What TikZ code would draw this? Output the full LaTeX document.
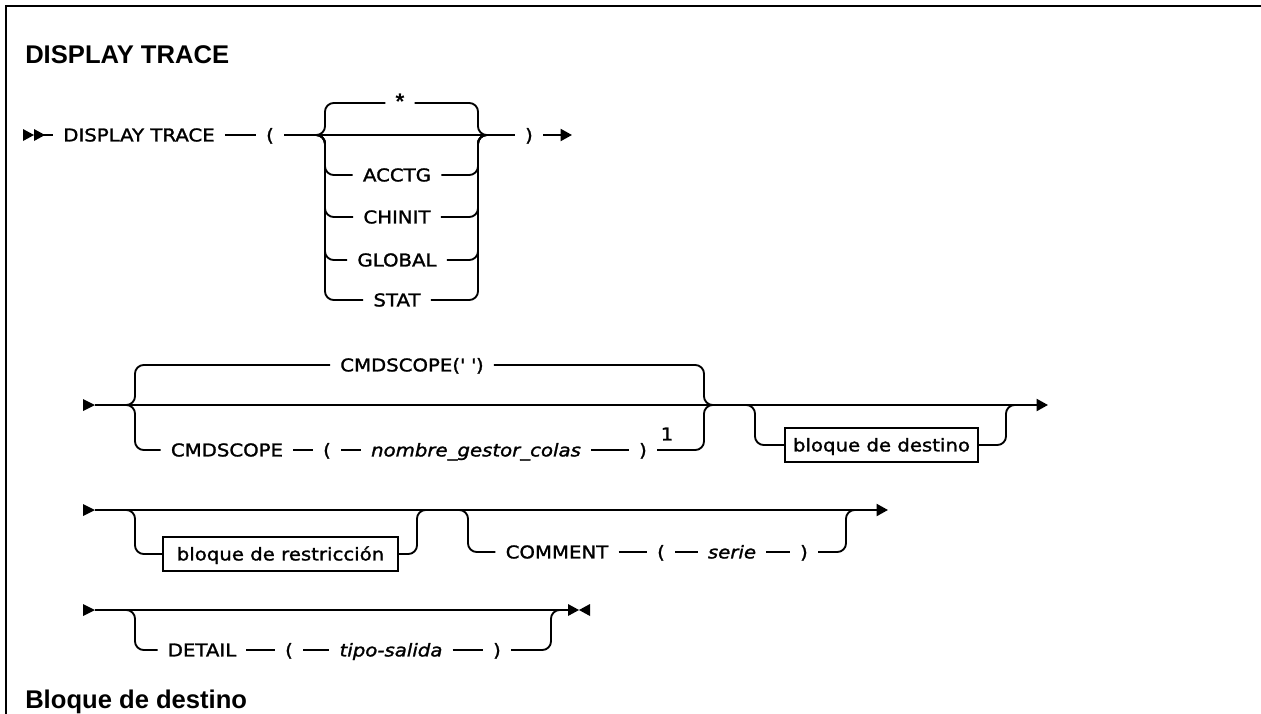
\documentclass[tikz,border=0pt]{standalone}
\usepackage{fontspec}
\setmainfont{DejaVu Sans}[FakeStretch=1.12, FakeBold=1.5]
\newfontfamily\headfont{Liberation Sans}
\usetikzlibrary{arrows.meta}

\begin{document}
\begin{tikzpicture}[x=0.75pt, y=-0.75pt,
  syn/.style={line width=1.4pt, line join=round},
  brn/.style={syn, rounded corners=6.5pt},
  tok/.style={font=\fontsize{13.2}{15}\selectfont, inner xsep=7.5pt, inner ysep=0pt,
    text height=12.1pt, text depth=2.5pt},
  var/.style={tok, font=\fontsize{13.2}{15}\selectfont\itshape},
  blk/.style={tok, draw, line width=1.1pt, inner xsep=6pt, inner ysep=5.5pt},
  ttl/.style={font=\headfont\bfseries\fontsize{19.2}{22}\selectfont, anchor=base west, inner sep=0pt},
  fin/.style={syn, -{Triangle[length=8.5pt, width=9pt]}}
]
  \useasboundingbox (0,0) rectangle (1261,714);
  \draw[line width=2.2pt] (6,714) -- (6,6) -- (1261,6);

  \node[ttl] (head) at (25,63) {DISPLAY TRACE};
  \node[ttl] (sub) at (25,708) {Bloque de destino};

  % first line
  \node[tok] (disp) at (139,135) {DISPLAY TRACE};
  \node[tok] (lp1) at (270,135) {(};
  \node[tok] (rp1) at (529,135) {)};
  \coordinate (s1) at (34,135);
  \coordinate (e1) at (572,135);
  \coordinate (c1l) at (315,135); \coordinate (vL1) at (325,135);
  \coordinate (vR1) at (478,135); \coordinate (c1r) at (488,135);
  \fill (23,129) -- (34,135) -- (23,141) -- cycle;
  \fill (34,129) -- (45,135) -- (34,141) -- cycle;
  \draw[syn] (s1) -- (disp.west);
  \draw[syn] (disp.east) -- (lp1.west);
  \draw[syn] (lp1.east) -- (rp1.west);
  \draw[fin] (rp1.east) -- (e1);
  \node[tok, font=\headfont\bfseries\fontsize{17}{20}\selectfont] (star) at (400,103) {*};
  \foreach \n/\t/\y in {acctg/ACCTG/175, chinit/CHINIT/217, global/GLOBAL/260, stat/STAT/300}
    \node[tok] (\n) at (397,\y) {\t};
  \foreach \n in {star,acctg,chinit,global,stat}{
    \draw[brn] (c1l) -| (vL1 |- \n.west) -- (\n.west);
    \draw[brn] (\n.east) -| (vR1) -- (c1r);
  }

  % second line
  \coordinate (s2) at (95,405);
  \coordinate (e2) at (1048,405);
  \fill (83,399) -- (95,405) -- (83,411) -- cycle;
  \draw[fin] (s2) -- (e2);
  \coordinate (c2l) at (125,405); \coordinate (vL2) at (135,405);
  \coordinate (vR2) at (704,405); \coordinate (c2r) at (714,405);
  \node[tok] (cmdq) at (412,365) {CMDSCOPE(\textquotesingle\ \textquotesingle)};
  \draw[brn] (c2l) -| (vL2 |- cmdq.west) -- (cmdq.west);
  \draw[brn] (cmdq.east) -| (vR2) -- (c2r);
  \node[tok] (cmd2) at (227,450) {CMDSCOPE};
  \node[tok] (lp2) at (327,450) {(};
  \node[var] (qmgr) at (476,450) {nombre\_gestor\_colas};
  \node[tok] (rp2) at (643,450) {)};
  \node[tok, inner xsep=0pt] (note) at (667,434) {1};
  \draw[brn] (c2l) -| (vL2 |- cmd2.west) -- (cmd2.west);
  \draw[syn] (cmd2.east) -- (lp2.west);
  \draw[syn] (lp2.east) -- (qmgr.west);
  \draw[syn] (qmgr.east) -- (rp2.west);
  \draw[brn] (rp2.east) -| (vR2) -- (c2r);
  \coordinate (c3l) at (745,405); \coordinate (vL3) at (755,405);
  \coordinate (vR3) at (1006,405); \coordinate (c3r) at (1016,405);
  \node[blk, minimum width=145pt] (dest) at (881.5,445) {bloque de destino};
  \draw[brn] (c3l) -| (vL3 |- dest.west) -- (dest.west);
  \draw[brn] (dest.east) -| (vR3) -- (c3r);

  % third line
  \coordinate (s3) at (95,510);
  \coordinate (e3) at (888,510);
  \fill (83,504) -- (95,510) -- (83,516) -- cycle;
  \draw[fin] (s3) -- (e3);
  \coordinate (c4l) at (125,510); \coordinate (vL4) at (135,510);
  \coordinate (vR4) at (417,510); \coordinate (c4r) at (427,510);
  \node[blk, minimum width=176pt] (restr) at (280.5,554) {bloque de restricción};
  \draw[brn] (c4l) -| (vL4 |- restr.west) -- (restr.west);
  \draw[brn] (restr.east) -| (vR4) -- (c4r);
  \coordinate (c5l) at (458,510); \coordinate (vL5) at (468,510);
  \coordinate (vR5) at (846,510); \coordinate (c5r) at (856,510);
  \node[tok] (com) at (557,552) {COMMENT};
  \node[tok] (lp3) at (661,552) {(};
  \node[var] (ser) at (732,552) {serie};
  \node[tok] (rp3) at (804,552) {)};
  \draw[brn] (c5l) -| (vL5 |- com.west) -- (com.west);
  \draw[syn] (com.east) -- (lp3.west);
  \draw[syn] (lp3.east) -- (ser.west);
  \draw[syn] (ser.east) -- (rp3.west);
  \draw[brn] (rp3.east) -| (vR5) -- (c5r);

  % fourth line
  \coordinate (s4) at (95,610);
  \coordinate (e4) at (568,610);
  \fill (83,604) -- (95,610) -- (83,616) -- cycle;
  \draw[syn] (s4) -- (e4);
  \fill (568,604) -- (579,610) -- (568,616) -- cycle;
  \fill (590,604) -- (579,610) -- (590,616) -- cycle;
  \coordinate (c6l) at (125,610); \coordinate (vL6) at (135,610);
  \coordinate (vR6) at (551,610); \coordinate (c6r) at (561,610);
  \node[tok] (det) at (202,650) {DETAIL};
  \node[tok] (lp4) at (289,650) {(};
  \node[var] (otype) at (391,650) {tipo-salida};
  \node[tok] (rp4) at (497,650) {)};
  \draw[brn] (c6l) -| (vL6 |- det.west) -- (det.west);
  \draw[syn] (det.east) -- (lp4.west);
  \draw[syn] (lp4.east) -- (otype.west);
  \draw[syn] (otype.east) -- (rp4.west);
  \draw[brn] (rp4.east) -| (vR6) -- (c6r);
\end{tikzpicture}
\end{document}
